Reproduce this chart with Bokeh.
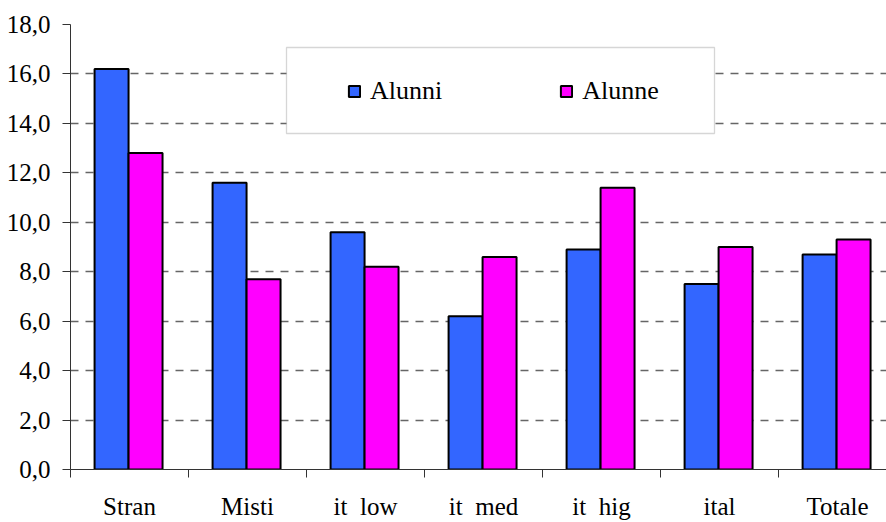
from bokeh.plotting import figure
from bokeh.models import (ColumnDataSource, Range1d, FixedTicker, Legend, LegendItem,
                          BoxAnnotation)
from bokeh.transform import dodge
from bokeh.embed import file_html
from bokeh.resources import INLINE

# Data (double spaces kept visible with no-break spaces)
categories = ["Stran", "Misti", "it\u00a0\u00a0low", "it\u00a0\u00a0med", "it\u00a0\u00a0hig",
              "ital", "Totale"]
alunni = [16.2, 11.6, 9.6, 6.2, 8.9, 7.5, 8.7]
alunne = [12.8, 7.7, 8.2, 8.6, 11.4, 9.0, 9.3]
y_ticks = [0, 2, 4, 6, 8, 10, 12, 14, 16, 18]
y_tick_labels = ["0,0", "2,0", "4,0", "6,0", "8,0", "10,0", "12,0", "14,0", "16,0", "18,0"]

FONT = "'Liberation Serif'"
BLUE = "#3366FF"
MAGENTA = "#FF00FF"

n = len(categories)
centers = [i + 0.5 for i in range(n)]
bounds = list(range(n + 1))

src = ColumnDataSource(dict(x=centers, alunni=alunni, alunne=alunne))

p = figure(width=886, height=522, output_backend="svg", toolbar_location=None,
           x_range=Range1d(0, 6.915), y_range=Range1d(0, 18),
           min_border_left=70, min_border_right=0, min_border_top=24, min_border_bottom=50)
p.outline_line_color = None
p.background_fill_color = "white"
p.border_fill_color = "white"

bw = 0.288
r1 = p.vbar(x=dodge("x", -bw / 2 - 0.008), top="alunni", width=bw, source=src,
            fill_color=BLUE, line_color="black", line_width=2)
r2 = p.vbar(x=dodge("x", bw / 2 - 0.008), top="alunne", width=bw, source=src,
            fill_color=MAGENTA, line_color="black", line_width=2)

# x axis: labels at category centres, tick marks at category boundaries
xa = p.xaxis[0]
xa.ticker = FixedTicker(ticks=centers, minor_ticks=bounds)
xa.major_label_overrides = {c: lab for c, lab in zip(centers, categories)}
xa.major_tick_out = 0
xa.major_tick_in = 0
xa.minor_tick_out = 8
xa.minor_tick_in = 0
xa.minor_tick_line_color = "#333333"
xa.axis_line_color = "#333333"
xa.major_label_standoff = 15
xa.major_label_text_font = FONT
xa.major_label_text_font_size = "25px"
xa.major_label_text_color = "black"

ya = p.yaxis[0]
ya.ticker = FixedTicker(ticks=y_ticks)
ya.major_label_overrides = {float(t): lab for t, lab in zip(y_ticks, y_tick_labels)}
ya.major_tick_out = 8
ya.major_tick_in = 0
ya.minor_tick_out = 0
ya.minor_tick_in = 0
ya.major_tick_line_color = "#333333"
ya.axis_line_color = "#333333"
ya.major_label_standoff = 12
ya.major_label_text_font = FONT
ya.major_label_text_font_size = "25px"
ya.major_label_text_color = "black"

p.xgrid.grid_line_color = None
p.ygrid.ticker = FixedTicker(ticks=y_ticks)
p.ygrid.grid_line_color = "#666666"
p.ygrid.grid_line_dash = "8 7"
p.ygrid.grid_line_width = 1.3

# legend frame
frame = BoxAnnotation(left=286, right=714, top=47, bottom=133,
                      left_units="canvas", right_units="canvas",
                      top_units="canvas", bottom_units="canvas",
                      fill_color="white", fill_alpha=1.0,
                      line_color="#777777", line_width=1.3)
p.add_layout(frame)

legend = Legend(items=[LegendItem(label="Alunni", renderers=[r1]),
                       LegendItem(label="Alunne", renderers=[r2])],
                orientation="horizontal", location=(277, 363),
                padding=0, margin=0, spacing=117,
                glyph_width=14, glyph_height=14, label_standoff=9,
                label_text_font=FONT, label_text_font_size="26px",
                label_text_color="black",
                border_line_color=None, background_fill_alpha=0)
p.add_layout(legend, "center")

open("out.html", "w").write(file_html(p, INLINE))
